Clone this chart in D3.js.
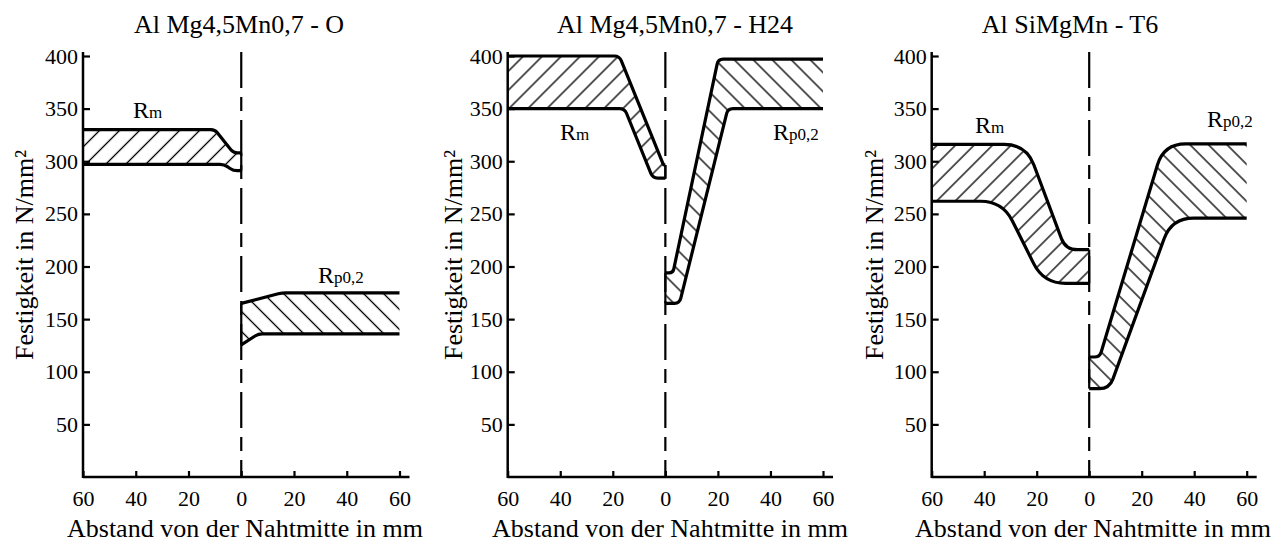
<!DOCTYPE html>
<html>
<head>
<meta charset="utf-8">
<script src="https://cdn.jsdelivr.net/npm/d3@7"></script>
<style>
body { margin: 0; background: #fff; }
text { font-family: "Liberation Serif", "Times New Roman", serif; fill: #000; }
</style>
</head>
<body>
<svg id="chart"></svg>
<script>
const W = 1282;
const H = 542;

const titles = ["Al Mg4,5Mn0,7 - O", "Al Mg4,5Mn0,7 - H24", "Al SiMgMn - T6"];
const xTicks = [-60, -40, -20, 0, 20, 40, 60];
const yTicks = [50, 100, 150, 200, 250, 300, 350, 400];
const xLabel = "Abstand von der Nahtmitte in mm";
const yLabel = "Festigkeit in N/mm²";

// [Abstand in mm (links negativ), Festigkeit in N/mm²]
const rmUpperO = [[-60, 330], [-10, 330], [-3, 308], [0, 308]];
const rmLowerO = [[-60, 297], [-6.5, 297], [-3, 291], [0, 291]];
const rpUpperO = [[0, 165], [15.5, 175], [60, 175]];
const rpLowerO = [[0, 125.5], [6.5, 136], [60, 136]];

const rmUpperH24 = [[-60, 400], [-17.5, 400], [-0.7, 296.5], [0, 296.5]];
const rmLowerH24 = [[-60, 350], [-15.5, 350], [-4.8, 284], [0, 284]];
const rpUpperH24 = [[0, 194], [2.9, 194], [20.1, 397], [60, 397]];
const rpLowerH24 = [[0, 165], [5.4, 165], [23.8, 350], [60, 350]];

const rmUpperT6 = [[-60, 316], [-24, 316], [-9, 216], [0, 216]];
const rmLowerT6 = [[-60, 262], [-33, 262], [-17.4, 184], [0, 184]];
const rpUpperT6 = [[0, 114], [4, 114], [28.4, 316.5], [60, 316.5]];
const rpLowerT6 = [[0, 84], [7.7, 84], [31.4, 246], [60, 246]];

const panels = [
	{ title: titles[0], left: 83, right: 399.5, round: 4, hatch: 20,
		rm: [rmUpperO, rmLowerO], rp: [rpUpperO, rpLowerO],
		titleX: 239, xLabelX: 245, yLabelX: 33, rmPos: [133, 118], rpPos: [318, 283] },
	{ title: titles[1], left: 507.7, right: 823, round: 5, hatch: 19,
		rm: [rmUpperH24, rmLowerH24], rp: [rpUpperH24, rpLowerH24],
		titleX: 675, xLabelX: 670, yLabelX: 461.5, rmPos: [560, 140], rpPos: [773, 140] },
	{ title: titles[2], left: 931.7, right: 1246.7, round: 22, hatch: 18.5,
		rm: [rmUpperT6, rmLowerT6], rp: [rpUpperT6, rpLowerT6],
		titleX: 1070, xLabelX: 1093, yLabelX: 883, rmPos: [975, 133], rpPos: [1207, 127] }
];

const y = d3.scaleLinear().domain([0, 400]).range([477, 56]);

// polyline with rounded corners, like the drafted curves
function trace(ctx, pts, R, start) {
	pts.forEach((p, i) => {
		if (i === 0) { start ? ctx.moveTo(p[0], p[1]) : ctx.lineTo(p[0], p[1]); return; }
		if (i === pts.length - 1) { ctx.lineTo(p[0], p[1]); return; }
		let a = pts[i - 1], b = pts[i + 1];
		let d1 = Math.hypot(p[0] - a[0], p[1] - a[1]);
		let d2 = Math.hypot(b[0] - p[0], b[1] - p[1]);
		let r = Math.min(R, d1 / 2, d2 / 2);
		ctx.lineTo(p[0] + (a[0] - p[0]) * r / d1, p[1] + (a[1] - p[1]) * r / d1);
		ctx.quadraticCurveTo(p[0], p[1], p[0] + (b[0] - p[0]) * r / d2, p[1] + (b[1] - p[1]) * r / d2);
	});
}

const svg = d3.select("#chart").attr("width", W).attr("height", H);
const defs = svg.append("defs");

panels.forEach((pn, k) => {
	const x = d3.scaleLinear().domain([-60, 60]).range([pn.left, pn.right]);
	const g = svg.append("g");
	const toPx = pts => pts.map(d => [x(d[0]), y(d[1])]);

	// hatch patterns: "/" for Rm, "\" for Rp
	const step = pn.hatch / Math.SQRT2;
	[["rm", 45], ["rp", -45]].forEach(([key, ang]) => {
		defs.append("pattern")
			.attr("id", "hatch-" + key + k)
			.attr("patternUnits", "userSpaceOnUse")
			.attr("width", step).attr("height", step)
			.attr("patternTransform", "rotate(" + ang + ")")
			.append("line")
			.attr("x1", step / 2).attr("y1", 0)
			.attr("x2", step / 2).attr("y2", step)
			.attr("stroke", "#000").attr("stroke-width", 1.3);
	});

	[["rm", pn.rm], ["rp", pn.rp]].forEach(([key, band]) => {
		let up = toPx(band[0]), lo = toPx(band[1]);
		let area = d3.path();
		trace(area, up, pn.round, true);
		trace(area, lo.slice().reverse(), pn.round, false);
		area.closePath();
		g.append("path").attr("d", area.toString())
			.attr("fill", "url(#hatch-" + key + k + ")").attr("stroke", "none");

		[up, lo].forEach(pts => {
			let p = d3.path();
			trace(p, pts, pn.round, true);
			g.append("path").attr("d", p.toString())
				.attr("fill", "none").attr("stroke", "#000")
				.attr("stroke-width", 3.2).attr("stroke-linejoin", "round");
		});

		// closing edge on the weld centre
		let iu = key === "rm" ? band[0].length - 1 : 0;
		let il = key === "rm" ? band[1].length - 1 : 0;
		g.append("line")
			.attr("x1", x(0)).attr("x2", x(0))
			.attr("y1", y(band[0][iu][1])).attr("y2", y(band[1][il][1]))
			.attr("stroke", "#000").attr("stroke-width", 2.2);
	});

	// weld centre line
	g.append("line")
		.attr("x1", x(0)).attr("x2", x(0))
		.attr("y1", y(400) - 4).attr("y2", y(0))
		.attr("stroke", "#000").attr("stroke-width", 2.2)
		.attr("stroke-dasharray", "36,9,14,9");

	// axes
	const ax = g.append("g").attr("transform", "translate(0," + y(0) + ")")
		.call(d3.axisBottom(x).tickValues(xTicks).tickFormat(d => Math.abs(d))
			.tickSizeInner(-6).tickSizeOuter(0).tickPadding(13));
	const ay = g.append("g").attr("transform", "translate(" + x(-60) + ",0)")
		.call(d3.axisLeft(y).tickValues(yTicks)
			.tickSizeInner(-7).tickSizeOuter(0).tickPadding(5));
	[ax, ay].forEach(a => {
		a.select(".domain").remove();
		a.selectAll(".tick line").attr("stroke", "#000").attr("stroke-width", 2.2);
		a.selectAll(".tick text").attr("font-size", 22).attr("fill", "#000");
	});
	g.append("line")
		.attr("x1", x(-60)).attr("x2", x(60) + 10)
		.attr("y1", y(0)).attr("y2", y(0))
		.attr("stroke", "#000").attr("stroke-width", 2.5);
	g.append("line")
		.attr("x1", x(-60)).attr("x2", x(-60))
		.attr("y1", y(0) + 1).attr("y2", y(400) - 4)
		.attr("stroke", "#000").attr("stroke-width", 2.5);

	// texts
	g.append("text").attr("x", pn.titleX).attr("y", 33)
		.attr("text-anchor", "middle").attr("font-size", 26).text(pn.title);
	g.append("text").attr("x", pn.xLabelX).attr("y", 537)
		.attr("text-anchor", "middle").attr("font-size", 26).text(xLabel);
	g.append("text")
		.attr("transform", "translate(" + pn.yLabelX + ",255) rotate(-90)")
		.attr("text-anchor", "middle").attr("font-size", 26).text(yLabel);

	const rmT = g.append("text").attr("x", pn.rmPos[0]).attr("y", pn.rmPos[1]).attr("font-size", 24);
	rmT.append("tspan").text("R");
	rmT.append("tspan").attr("font-size", 17).text("m");
	const rpT = g.append("text").attr("x", pn.rpPos[0]).attr("y", pn.rpPos[1]).attr("font-size", 24);
	rpT.append("tspan").text("R");
	rpT.append("tspan").attr("font-size", 17).text("p0,2");
});
</script>
</body>
</html>
